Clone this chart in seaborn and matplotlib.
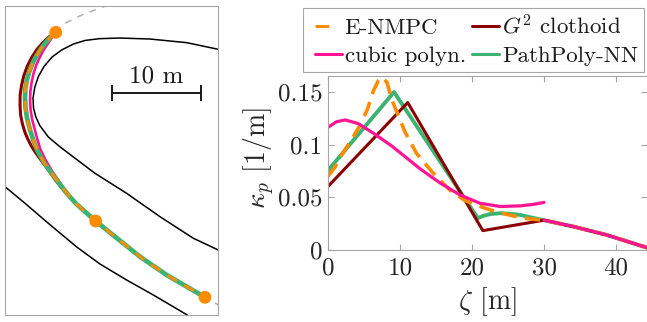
import numpy as np
import pandas as pd
import matplotlib
matplotlib.use("Agg")
import matplotlib.pyplot as plt
import seaborn as sns
from matplotlib.lines import Line2D
from matplotlib.legend_handler import HandlerLine2D

# ---------------- colours ----------------
C_ENMPC = "#FF8C00"
C_G2 = "#8B0000"
C_CUBIC = "#FF1493"
C_NN = "#3CB371"

# ---------------- left panel: paths in metres ----------------
inner_x = [23.97, 20.42, 16.29, 12.92, 10.60, 9.00, 7.70, 6.40, 5.30, 4.40, 3.75, 3.35, 3.15, 3.20, 3.45, 3.90, 4.87, 6.18, 7.49, 10.11, 13.67, 17.42, 21.16, 23.97]
inner_y = [29.85, 30.60, 31.01, 31.12, 31.05, 30.85, 30.45, 29.80, 29.00, 27.95, 26.80, 25.60, 24.40, 23.30, 22.30, 21.30, 20.00, 18.90, 17.90, 15.92, 13.67, 11.04, 8.62, 7.30]
outer_x = [0.0, 2.25, 4.87, 8.06, 10.67, 13.67, 16.66, 20.48]
outer_y = [14.42, 12.55, 10.30, 7.64, 5.73, 3.93, 2.25, 0.0]

enmpc_x = [5.70, 5.15, 4.60, 4.05, 3.55, 3.10, 2.75, 2.45, 2.28, 2.25, 2.30, 2.48, 2.81, 3.20, 3.65, 4.40, 5.25, 6.15, 7.11, 8.00, 8.99, 10.19, 12.36, 15.17, 18.17, 20.42, 22.47]
enmpc_y = [31.76, 31.25, 30.65, 29.95, 29.15, 28.30, 27.40, 26.40, 25.40, 24.40, 23.30, 22.10, 20.80, 19.60, 18.43, 17.10, 15.92, 14.70, 13.48, 12.50, 11.61, 10.56, 8.80, 6.55, 4.49, 3.18, 1.99]
nn_x = enmpc_x
nn_y = enmpc_y
g2_x = [5.70, 4.95, 4.25, 3.60, 3.00, 2.50, 2.10, 1.85, 1.70, 1.69, 1.75, 1.95, 2.25, 2.55, 2.95, 3.40, 4.04, 4.87, 5.81, 6.85] + enmpc_x[19:]
g2_y = [31.76, 31.25, 30.60, 29.85, 28.95, 27.95, 26.85, 25.75, 24.70, 23.60, 22.50, 21.50, 20.50, 19.80, 19.00, 18.30, 17.42, 16.29, 14.98, 13.71] + enmpc_y[19:]
cubic_x = [5.70, 5.30, 4.85, 4.35, 3.90, 3.50, 3.20, 2.98, 2.85, 2.82, 2.88, 3.05, 3.30, 3.62, 3.98, 4.55, 5.35, 6.20, 7.00] + enmpc_x[19:]
cubic_y = [31.76, 31.20, 30.55, 29.80, 28.95, 28.05, 27.10, 26.10, 25.10, 24.10, 23.00, 22.00, 21.01, 19.80, 18.60, 17.42, 16.07, 14.83, 13.71] + enmpc_y[19:]

ref_top_x = [11.60, 8.62, 6.35, 5.70]
ref_top_y = [34.85, 33.71, 32.58, 31.76]
ref_bot_x = [22.47, 24.20]
ref_bot_y = [1.99, 1.00]

wp_x = [5.70, 10.19, 22.47]
wp_y = [31.76, 10.56, 1.99]

scale_len = 10.0
scale_x0 = 11.99
scale_y = 24.91
scale_text = "10 m"

# ---------------- right panel: curvature profiles ----------------
tail_zeta = [30.0, 34.1, 38.7, 44.4]
tail_kappa = [0.0283, 0.0222, 0.0143, 0.002]

enmpc_zeta = [0.0, 1.0, 2.1, 3.3, 4.5, 5.5, 6.3, 7.0, 7.55, 8.2, 8.85, 9.5, 10.7, 12.3, 14.6, 16.9, 19.0, 21.8, 23.5, 25.7, 27.5, 28.3]
enmpc_kappa = [0.070, 0.079, 0.0925, 0.105, 0.119, 0.134, 0.151, 0.161, 0.164, 0.159, 0.143, 0.132, 0.112, 0.0917, 0.073, 0.057, 0.047, 0.0397, 0.036, 0.0324, 0.030, 0.0293]

nn_zeta = [0.0, 9.17, 20.8, 21.6, 22.6, 23.9, 25.3, 26.7, 28.0, 28.8]
nn_kappa = [0.0755, 0.150, 0.0302, 0.0325, 0.0342, 0.0349, 0.0344, 0.0333, 0.0312, 0.0300]

g2_zeta = [0.0, 11.07, 21.5]
g2_kappa = [0.0603, 0.140, 0.0184]

cubic_zeta = [0.0, 1.2, 2.4, 4.2, 6.5, 8.8, 11.0, 12.8, 15.6, 18.3, 21.1, 23.9, 26.7, 28.5, 30.0]
cubic_kappa = [0.1165, 0.1218, 0.1235, 0.1200, 0.1100, 0.0990, 0.0870, 0.0770, 0.0635, 0.0524, 0.0444, 0.0413, 0.0419, 0.0433, 0.0452]

x_ticks = [0, 10, 20, 30, 40]
x_tick_labels = ["0", "10", "20", "30", "40"]
y_ticks = [0, 0.05, 0.1, 0.15]
y_tick_labels = ["0", "0.05", "0.1", "0.15"]

labels = ["E-NMPC", "cubic polyn.", r"$G^2$ clothoid", "PathPoly-NN"]

# ---------------- style ----------------
sns.set_theme(style="white")
plt.rcParams.update({
    "font.family": ["cmr10", "DejaVu Serif"],
    "mathtext.fontset": "cm",
    "axes.unicode_minus": False,
    "axes.formatter.use_mathtext": True,
})

fig = plt.figure(figsize=(6.47, 3.22), dpi=100)
axL = fig.add_axes([5 / 647, 7 / 322, 213 / 647, 309 / 322])
axR = fig.add_axes([328 / 647, 72 / 322, 319 / 647, 174 / 322])


def draw(ax, x, y, **kw):
    sns.lineplot(x=x, y=y, ax=ax, sort=False, estimator=None, legend=False, **kw)


# ---- left panel ----
draw(axL, inner_x, inner_y, color="black", linewidth=1.1)
draw(axL, outer_x, outer_y, color="black", linewidth=1.1)
ref_x = ref_top_x + enmpc_x[1:] + ref_bot_x[1:]
ref_y = ref_top_y + enmpc_y[1:] + ref_bot_y[1:]
draw(axL, ref_x, ref_y, color="#b3b3b3", linewidth=1.2, linestyle=(0, (4, 4)))
draw(axL, g2_x, g2_y, color=C_G2, linewidth=2.2)
draw(axL, cubic_x, cubic_y, color=C_CUBIC, linewidth=1.9)
draw(axL, nn_x, nn_y, color=C_NN, linewidth=3.4)
draw(axL, enmpc_x, enmpc_y, color=C_ENMPC, linewidth=2.0, linestyle=(0, (4, 3)))
sns.scatterplot(x=wp_x, y=wp_y, ax=axL, color=C_ENMPC, s=85, edgecolor="none", zorder=10, legend=False)
axL.plot([scale_x0, scale_x0 + scale_len], [scale_y, scale_y], color="#1a1a1a", linewidth=1.4,
         marker="|", markersize=12, markeredgewidth=1.4)
axL.text(scale_x0 + scale_len / 2, scale_y + 1.2, scale_text, ha="center", va="baseline",
         fontsize=18, color="#1a1a1a")
axL.set_xlim(0, 23.93)
axL.set_ylim(0, 34.72)
axL.set_xticks([])
axL.set_yticks([])
axL.set_xlabel("")
axL.set_ylabel("")
for s in axL.spines.values():
    s.set_color("#a6a6a6")
    s.set_linewidth(0.8)

# ---- right panel ----
draw(axR, nn_zeta + tail_zeta, nn_kappa + tail_kappa, color=C_NN, linewidth=2.8)
draw(axR, g2_zeta + tail_zeta, g2_kappa + tail_kappa, color=C_G2, linewidth=2.2)
draw(axR, enmpc_zeta + tail_zeta, enmpc_kappa + tail_kappa, color=C_ENMPC, linewidth=2.6,
     linestyle=(0, (4.2, 2.3)))
draw(axR, cubic_zeta, cubic_kappa, color=C_CUBIC, linewidth=2.3)
draw(axR, tail_zeta, tail_kappa, color=C_CUBIC, linewidth=2.3)

axR.set_xlim(0, 44.3)
axR.set_ylim(0, 0.1652)
axR.set_xticks(x_ticks)
axR.set_xticklabels(x_tick_labels)
axR.set_yticks(y_ticks)
axR.set_yticklabels(y_tick_labels)
axR.tick_params(axis="both", which="major", direction="in", length=4, width=0.8, color="#a6a6a6",
                labelsize=18, labelcolor="#262626", bottom=True, left=True, top=True, right=True)
axR.tick_params(axis="x", pad=5)
axR.tick_params(axis="y", pad=4)
for s in axR.spines.values():
    s.set_color("#a6a6a6")
    s.set_linewidth(0.8)
axR.spines["right"].set_visible(False)
axR.set_xlabel(r"$\zeta$ [m]", fontsize=20, color="#262626")
axR.set_ylabel(r"$\kappa_p$ [1/m]", fontsize=20, color="#262626")
axR.xaxis.set_label_coords(0.5, -0.20)
axR.yaxis.set_label_coords(-0.16, 0.53)

# ---- legend ----
handles = [
    Line2D([], [], color=C_ENMPC, linewidth=2.2, linestyle=(0, (4.5, 5))),
    Line2D([], [], color=C_CUBIC, linewidth=2.2),
    Line2D([], [], color=C_G2, linewidth=2.2),
    Line2D([], [], color=C_NN, linewidth=2.2),
]
leg = fig.legend(handles, labels, ncol=2, loc="upper left",
                 bbox_to_anchor=(303 / 647, 1 - 8 / 322), bbox_transform=fig.transFigure,
                 borderaxespad=0, fontsize=16.5, handlelength=1.70, handletextpad=-0.13,
                 columnspacing=0.0, borderpad=0.25, labelspacing=0.35, frameon=True,
                 fancybox=False, edgecolor="#a6a6a6", framealpha=1,
                 handler_map={Line2D: HandlerLine2D(numpoints=2, marker_pad=0.26)})
leg.get_frame().set_linewidth(0.8)
for t in leg.get_texts():
    t.set_color("#1a1a1a")

fig.savefig("out.png", dpi=100)
